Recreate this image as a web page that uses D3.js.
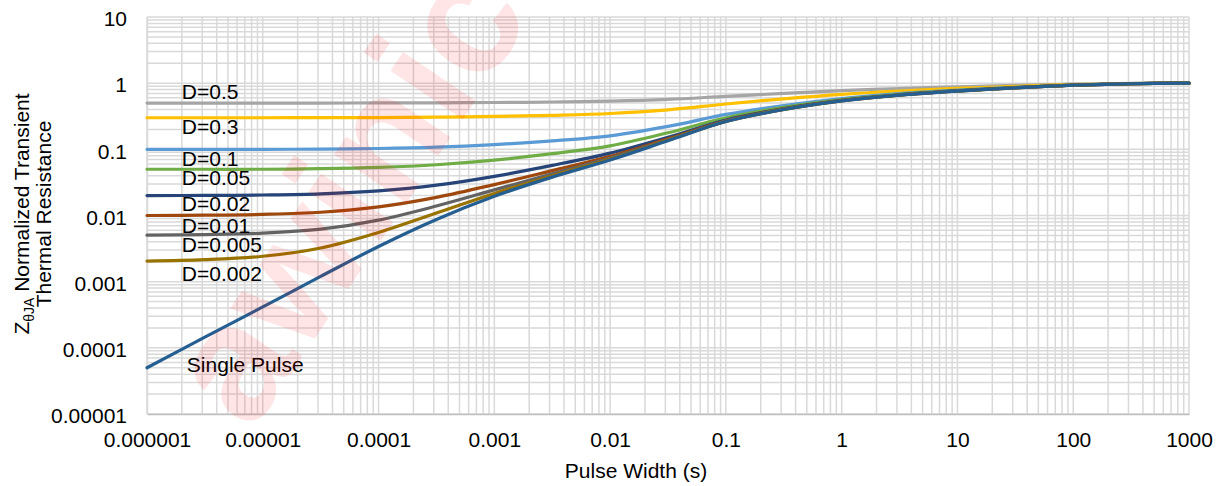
<!DOCTYPE html>
<html>
<head>
<meta charset="utf-8">
<script src="https://cdn.jsdelivr.net/npm/d3@7"></script>
<style>
  html, body { margin: 0; padding: 0; background: #fff; }
  svg { display: block; font-family: "Liberation Sans", Arial, sans-serif; }
</style>
</head>
<body>
<svg id="chart" width="1222" height="486"></svg>
<script>
// ---- data ----
const pulseWidths = [1e-6, 3.16e-6, 1e-5, 3.16e-5, 1e-4, 3.16e-4, 1e-3, 3.16e-3, 1e-2, 3.16e-2, 0.1, 0.316, 1, 3.16, 10, 31.6, 100, 316, 1000];

const d05   = [0.500, 0.500, 0.500, 0.501, 0.502, 0.504, 0.510, 0.519, 0.535, 0.568, 0.632, 0.700, 0.770, 0.830, 0.880, 0.925, 0.965, 0.990, 1.000];
const d03   = [0.300, 0.300, 0.300, 0.301, 0.302, 0.306, 0.314, 0.327, 0.348, 0.395, 0.484, 0.580, 0.678, 0.762, 0.832, 0.895, 0.951, 0.986, 1.000];
const d01   = [0.100, 0.100, 0.100, 0.101, 0.103, 0.108, 0.118, 0.134, 0.160, 0.222, 0.337, 0.460, 0.586, 0.694, 0.784, 0.865, 0.937, 0.982, 1.000];
const d005  = [0.0500, 0.0500, 0.0500, 0.0510, 0.0534, 0.0585, 0.0685, 0.0860, 0.113, 0.178, 0.300, 0.430, 0.563, 0.677, 0.772, 0.858, 0.934, 0.981, 1.000];
const d002  = [0.0200, 0.0201, 0.0204, 0.0212, 0.0235, 0.0287, 0.0391, 0.0572, 0.0876, 0.152, 0.278, 0.412, 0.549, 0.667, 0.765, 0.853, 0.931, 0.980, 1.000];
const d001  = [0.0100, 0.0101, 0.0104, 0.0112, 0.0135, 0.0188, 0.0293, 0.0476, 0.0783, 0.144, 0.270, 0.406, 0.545, 0.663, 0.762, 0.852, 0.931, 0.980, 1.000];
const d0005 = [0.00505, 0.00515, 0.00541, 0.00622, 0.00853, 0.0139, 0.0244, 0.0428, 0.0737, 0.139, 0.267, 0.403, 0.542, 0.662, 0.761, 0.851, 0.930, 0.980, 1.000];
const d0002 = [0.00205, 0.00215, 0.00242, 0.00323, 0.00554, 0.0109, 0.0215, 0.0399, 0.0709, 0.137, 0.264, 0.401, 0.541, 0.661, 0.760, 0.850, 0.930, 0.980, 1.000];
const single= [5.0e-5, 1.45e-4, 4.15e-4, 1.20e-3, 3.40e-3, 8.7e-3, 0.0195, 0.038, 0.069, 0.135, 0.263, 0.400, 0.540, 0.660, 0.760, 0.850, 0.930, 0.980, 1.000];

const seriesNames  = ["D=0.5", "D=0.3", "D=0.1", "D=0.05", "D=0.02", "D=0.01", "D=0.005", "D=0.002", "Single Pulse"];
const seriesValues = [d05, d03, d01, d005, d002, d001, d0005, d0002, single];
const seriesColors = ["#a5a5a5", "#ffc000", "#5b9bd5", "#70ad47", "#264478", "#9e480e", "#636363", "#997300", "#255e91"];

// label anchor positions (data units)
const labelX = [2.0e-6, 2.0e-6, 2.0e-6, 2.0e-6, 2.0e-6, 2.0e-6, 2.0e-6, 2.0e-6, 2.21e-6];
const labelY = [0.577, 0.171, 0.0561, 0.029, 0.0117, 0.00546, 0.00282, 0.00103, 4.34e-5];

const xTickValues = [1e-6, 1e-5, 1e-4, 1e-3, 1e-2, 1e-1, 1, 10, 100, 1000];
const xTickLabels = ["0.000001", "0.00001", "0.0001", "0.001", "0.01", "0.1", "1", "10", "100", "1000"];
const yTickValues = [1e-5, 1e-4, 1e-3, 1e-2, 1e-1, 1, 10];
const yTickLabels = ["0.00001", "0.0001", "0.001", "0.01", "0.1", "1", "10"];

// ---- layout ----
const svg = d3.select("#chart");
const L = 147, R = 1189, T = 17, B = 414;
const x = d3.scaleLog().domain([1e-6, 1000]).range([L, R]);
const y = d3.scaleLog().domain([1e-5, 10]).range([B, T]);
const FS = 21;

// grid lines
const xGrid = [];
for (let e = -6; e <= 2; e++) for (let k = 1; k <= 9; k++) xGrid.push(k * Math.pow(10, e));
xGrid.push(1000);
const yGrid = [];
for (let e = -5; e <= 0; e++) for (let k = 1; k <= 9; k++) yGrid.push(k * Math.pow(10, e));
yGrid.push(10);

const grid = svg.append("g").attr("stroke", "#d9d9d9").attr("stroke-width", 1.5);
grid.selectAll("line.v").data(xGrid).join("line").attr("class", "v")
  .attr("x1", d => x(d)).attr("x2", d => x(d)).attr("y1", T).attr("y2", B);
grid.selectAll("line.h").data(yGrid).join("line").attr("class", "h")
  .attr("y1", d => y(d)).attr("y2", d => y(d)).attr("x1", L).attr("x2", R);

// axes
const xAxis = d3.axisBottom(x).tickValues(xTickValues)
  .tickFormat((d, i) => xTickLabels[i]).tickSize(0).tickPadding(18);
const gx = svg.append("g").attr("transform", `translate(0,${B})`).call(xAxis);
gx.select(".domain").attr("stroke", "#bfbfbf").attr("stroke-width", 1.5);
gx.selectAll("text").attr("font-size", FS).attr("fill", "#000").attr("font-family", null);

const yAxis = d3.axisLeft(y).tickValues(yTickValues)
  .tickFormat((d, i) => yTickLabels[i]).tickSize(0).tickPadding(20);
const gy = svg.append("g").attr("transform", `translate(${L},0)`).call(yAxis);
gy.select(".domain").attr("stroke", "#d9d9d9").attr("stroke-width", 1.5);
gy.selectAll("text").attr("font-size", FS).attr("fill", "#000").attr("dy", "0.42em").attr("font-family", null);

// series lines
const line = d3.line()
  .x(d => x(d[0])).y(d => y(d[1]))
  .curve(d3.curveCatmullRom.alpha(0.5));
const gl = svg.append("g").attr("fill", "none").attr("stroke-width", 3.2)
  .attr("stroke-linecap", "round").attr("stroke-linejoin", "round");
seriesValues.forEach((vals, i) => {
  gl.append("path")
    .datum(pulseWidths.map((p, j) => [p, vals[j]]))
    .attr("stroke", seriesColors[i])
    .attr("d", line);
});

// series labels
svg.append("g").selectAll("text").data(seriesNames).join("text")
  .attr("x", (d, i) => x(labelX[i]))
  .attr("y", (d, i) => y(labelY[i]))
  .attr("font-size", FS).attr("fill", "#000")
  .text(d => d);

// axis titles
svg.append("text")
  .attr("x", (L + R) / 2 - 32).attr("y", 478)
  .attr("text-anchor", "middle").attr("font-size", FS).attr("fill", "#000")
  .text("Pulse Width (s)");

const yt = svg.append("g").attr("transform", "translate(0,214) rotate(-90)");
const t1 = yt.append("text").attr("x", 0).attr("y", 28.5)
  .attr("text-anchor", "middle").attr("font-size", FS).attr("fill", "#000");
t1.append("tspan").text("Z");
t1.append("tspan").attr("font-size", 14).attr("dy", 5).text("θJA");
t1.append("tspan").attr("dy", -5).text(" Normalized Transient");
yt.append("text").attr("x", 0).attr("y", 50.5)
  .attr("text-anchor", "middle").attr("font-size", FS).attr("fill", "#000")
  .text("Thermal Resistance");

// watermark
svg.append("text")
  .attr("transform", "translate(345,192) rotate(-56)")
  .attr("text-anchor", "middle").attr("dominant-baseline", "central")
  .attr("font-size", 165).attr("font-weight", "bold")
  .attr("fill", "#ff0000").attr("fill-opacity", 0.1)
  .text("awinic");
</script>
</body>
</html>
